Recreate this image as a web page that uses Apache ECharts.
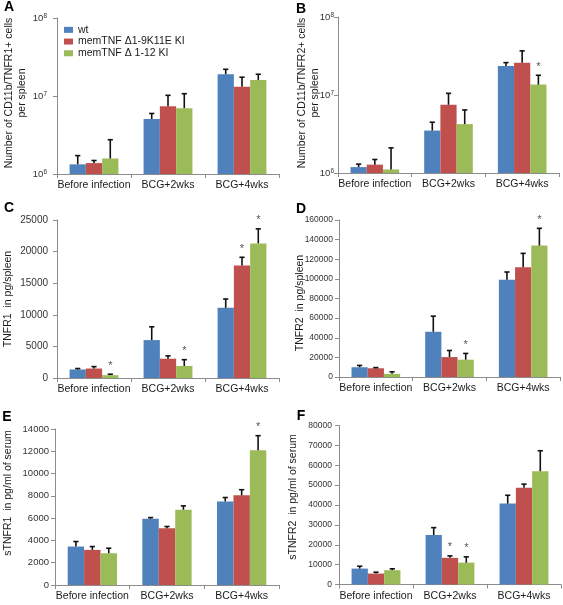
<!DOCTYPE html>
<html><head><meta charset="utf-8">
<script src="https://cdn.jsdelivr.net/npm/echarts@6/dist/echarts.min.js"></script>
<style>html,body{margin:0;padding:0;background:#fff}#c{width:563px;height:605px}</style>
</head><body><div id="c"></div>
<script>
const categories = ['Before infection', 'BCG+2wks', 'BCG+4wks'];
const seriesNames = ['wt', 'memTNF \u03941-9K11E KI', 'memTNF \u0394 1-12 KI'];
const colors = ['#4F81BD', '#C0504D', '#9BBB59'];

// Panel A: CD11b/TNFR1+ cells per spleen (log)
const A_wt = [1.33e6, 5.07e6, 1.9e7];
const A_wtErr = [1.72e6, 5.97e6, 2.2e7];
const A_d19 = [1.38e6, 7.4e6, 1.31e7];
const A_d19Err = [1.49e6, 1.02e7, 1.74e7];
const A_d112 = [1.58e6, 6.99e6, 1.6e7];
const A_d112Err = [2.75e6, 1.07e7, 1.9e7];
const A_stars = [[0,0,0],[0,0,0],[0,0,0]];

// Panel B: CD11b/TNFR2+ cells per spleen (log)
const B_wt = [1.19e6, 3.5e6, 2.35e7];
const B_wtErr = [1.3e6, 4.48e6, 2.6e7];
const B_d19 = [1.28e6, 7.5e6, 2.6e7];
const B_d19Err = [1.49e6, 1.05e7, 3.68e7];
const B_d112 = [1.11e6, 4.23e6, 1.36e7];
const B_d112Err = [2.1e6, 6.43e6, 1.79e7];
const B_stars = [[0,0,0],[0,0,0],[0,0,1]];

// Panel C: TNFR1 pg/spleen
const C_wt = [1350, 6000, 11100];
const C_wtErr = [1500, 8100, 12500];
const C_d19 = [1500, 3050, 17800];
const C_d19Err = [1800, 3500, 19100];
const C_d112 = [450, 1900, 21300];
const C_d112Err = [600, 2900, 23600];
const C_stars = [[0,0,0],[0,0,1],[1,1,1]];

// Panel D: TNFR2 pg/spleen
const D_wt = [9950, 46100, 99000];
const D_wtErr = [11800, 62000, 107000];
const D_d19 = [8900, 20300, 111800];
const D_d19Err = [9600, 27000, 126000];
const D_d112 = [3200, 17600, 133900];
const D_d112Err = [5300, 24000, 151500];
const D_stars = [[0,0,0],[0,0,0],[0,1,1]];

// Panel E: sTNFR1 pg/ml serum
const E_wt = [3450, 5950, 7500];
const E_wtErr = [3900, 6050, 7850];
const E_d19 = [3150, 5100, 8050];
const E_d19Err = [3450, 5250, 8550];
const E_d112 = [2850, 6750, 12100];
const E_d112Err = [3300, 7100, 13400];
const E_stars = [[0,0,0],[0,0,0],[0,0,1]];

// Panel F: sTNFR2 pg/ml serum
const F_wt = [8000, 24900, 40700];
const F_wtErr = [9200, 28600, 44900];
const F_d19 = [5500, 13400, 48700];
const F_d19Err = [6200, 14400, 50500];
const F_d112 = [7200, 11000, 57000];
const F_d112Err = [7900, 13900, 67300];
const F_stars = [[0,0,0],[0,1,0],[0,1,0]];

// value axis ticks
const C_ticks = {min: 0, max: 25000, interval: 5000};
const D_ticks = {min: 0, max: 160000, interval: 20000};
const E_ticks = {min: 0, max: 14000, interval: 2000};
const F_ticks = {min: 0, max: 80000, interval: 10000};

const FONT = '"Liberation Sans", Arial, Helvetica, sans-serif';

const panels = [
  {vals:[A_wt,A_d19,A_d112], errs:[A_wtErr,A_d19Err,A_d112Err], stars:A_stars, log:true,
   grid:{left:57, top:18, width:222, height:156}, labelMargin:10, tickFont:10},
  {vals:[B_wt,B_d19,B_d112], errs:[B_wtErr,B_d19Err,B_d112Err], stars:B_stars, log:true,
   grid:{left:338, top:17, width:221, height:156}, labelMargin:4, tickFont:10},
  {vals:[C_wt,C_d19,C_d112], errs:[C_wtErr,C_d19Err,C_d112Err], stars:C_stars, ticks:C_ticks,
   grid:{left:57, top:220, width:222, height:158}, labelMargin:9, tickFont:10},
  {vals:[D_wt,D_d19,D_d112], errs:[D_wtErr,D_d19Err,D_d112Err], stars:D_stars, ticks:D_ticks,
   grid:{left:339, top:220, width:221, height:157}, labelMargin:6, tickFont:8.5},
  {vals:[E_wt,E_d19,E_d112], errs:[E_wtErr,E_d19Err,E_d112Err], stars:E_stars, ticks:E_ticks,
   grid:{left:55, top:429, width:224, height:156}, labelMargin:6, tickFont:9.5},
  {vals:[F_wt,F_d19,F_d112], errs:[F_wtErr,F_d19Err,F_d112Err], stars:F_stars, ticks:F_ticks,
   grid:{left:339, top:425.5, width:222, height:159}, labelMargin:7, tickFont:8.5}
];

const GAP = 0.34;
const grids = [], xAxes = [], yAxes = [], series = [];
panels.forEach((p, pi) => {
  grids.push(Object.assign({containLabel:false}, p.grid));
  xAxes.push({
    type:'category', gridIndex:pi, data:categories,
    axisLine:{lineStyle:{color:'#8c8c8c', width:1}},
    axisTick:{show:true, length:4, lineStyle:{color:'#8c8c8c'}},
    axisLabel:{interval:0, fontSize:10.5, color:'#1a1a1a', margin:6, fontFamily:FONT},
    splitLine:{show:false}
  });
  const y = {
    gridIndex:pi,
    axisLine:{show:true, lineStyle:{color:'#8c8c8c', width:1}},
    axisTick:{show:true, length:4, lineStyle:{color:'#8c8c8c'}},
    splitLine:{show:false},
    axisLabel:{fontSize:p.tickFont, color:'#333', margin:p.labelMargin, fontFamily:FONT}
  };
  if (p.log) {
    Object.assign(y, {type:'log', logBase:10, min:1e6, max:1e8});
    y.axisLabel.formatter = v => '{b|10}{s|' + Math.round(Math.log10(v)) + '}';
    y.axisLabel.rich = {
      b:{fontSize:9.5, color:'#333', fontFamily:FONT},
      s:{fontSize:6.5, color:'#333', fontFamily:FONT, verticalAlign:'top', lineHeight:8}
    };
  } else {
    Object.assign(y, {type:'value'}, p.ticks);
    y.axisLabel.formatter = v => String(v);
  }
  yAxes.push(y);
  p.vals.forEach((arr, k) => {
    series.push({
      type:'bar', name:seriesNames[k], xAxisIndex:pi, yAxisIndex:pi,
      data:arr, barGap:'0%', barCategoryGap:(GAP*100)+'%',
      itemStyle:{color:colors[k]}, clip:true, silent:true, animation:false
    });
  });
  p.vals.forEach((arr, k) => {
    series.push({
      type:'custom', xAxisIndex:pi, yAxisIndex:pi, z:5, silent:true, animation:false,
      data:arr.map((v, i) => [i, v, p.errs[k][i], p.stars[k][i]]),
      encode:{x:0, y:[1,2]},
      renderItem:(params, api) => {
        const c = api.value(0), v = api.value(1), e = api.value(2), s = api.value(3);
        const p0 = api.coord([c, v]);
        const p1 = api.coord([c, e]);
        const band = api.size([1, 0], [c, v])[0];
        const bw = band * (1 - GAP) / 3;
        const x = p0[0] + (k - 1) * bw;
        const children = [
          {type:'line', shape:{x1:x, y1:p0[1], x2:x, y2:p1[1]}, style:{stroke:'#111', lineWidth:1.6}},
          {type:'line', shape:{x1:x-2.6, y1:p1[1], x2:x+2.6, y2:p1[1]}, style:{stroke:'#111', lineWidth:1.6}}
        ];
        if (s) children.push({type:'text', x:x, y:p1[1]-3,
          style:{text:'*', fill:'#555', font:'11px ' + FONT, align:'center', verticalAlign:'bottom'}});
        return {type:'group', children};
      }
    });
  });
});

const letters = [['A',9,7],['B',301,9],['C',9,208],['D',301,209],['E',7,417],['F',301,416]];
const yTitles = [
  ['Number of CD11b/TNFR1+ cells\nper spleen', 15.5, 93],
  ['Number of CD11b/TNFR2+ cells\nper spleen', 308.5, 93],
  ['TNFR1  in pg/spleen', 8, 299],
  ['TNFR2  in pg/spleen', 300, 303],
  ['sTNFR1  in pg/ml of serum', 8.3, 493],
  ['sTNFR2  in pg/ml of serum', 293, 497]
];
const graphic = [];
letters.forEach(([t, x, y]) => graphic.push({type:'text', x, y,
  style:{text:t, fill:'#000', font:'bold 14px ' + FONT, align:'center', verticalAlign:'middle'}}));
yTitles.forEach(([t, x, y]) => graphic.push({type:'text', x, y, rotation:Math.PI/2,
  style:{text:t, fill:'#1a1a1a', font:'10.5px ' + FONT, lineHeight:13, align:'center', verticalAlign:'middle'}}));

const chart = echarts.init(document.getElementById('c'), null, {renderer:'canvas'});
chart.setOption({
  animation:false,
  backgroundColor:'#fff',
  grid:grids, xAxis:xAxes, yAxis:yAxes, series,
  legend:{
    data:seriesNames, orient:'vertical', left:59, top:19, itemWidth:9, itemHeight:6, itemGap:0,
    icon:'rect', selectedMode:false,
    textStyle:{fontSize:10.5, color:'#1a1a1a', fontFamily:FONT, lineHeight:11.7}
  },
  graphic
});
</script></body></html>
